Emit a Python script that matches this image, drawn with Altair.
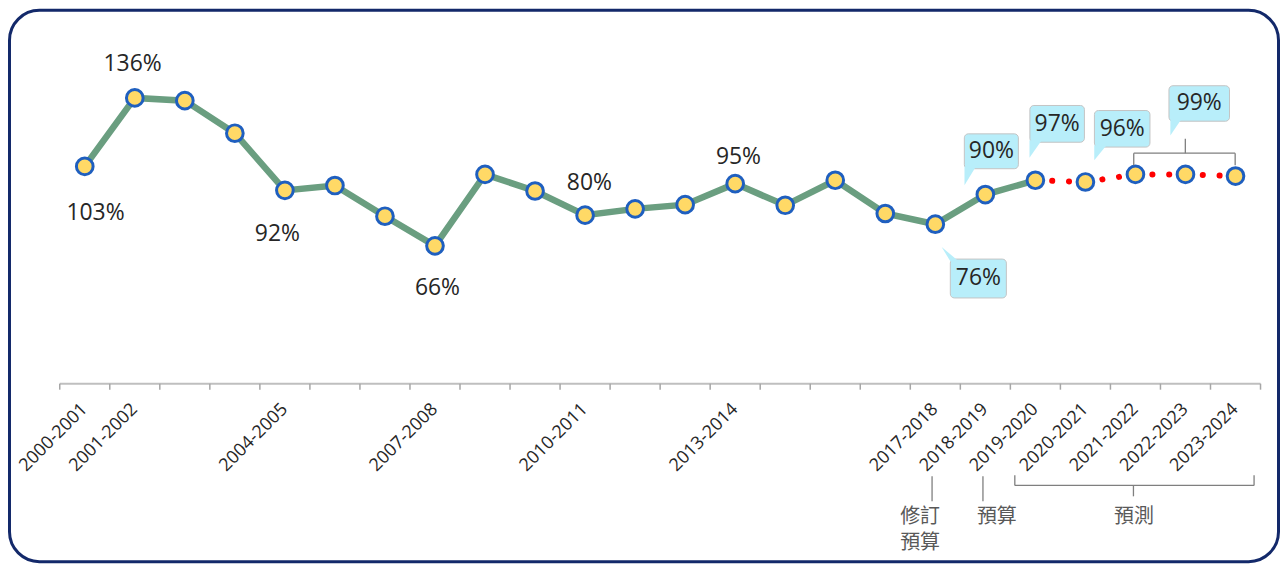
import altair as alt
import pandas as pd

# ---------------- data ----------------
years = ["2000-2001", "2001-2002", "2002-2003", "2003-2004", "2004-2005", "2005-2006",
         "2006-2007", "2007-2008", "2008-2009", "2009-2010", "2010-2011", "2011-2012",
         "2012-2013", "2013-2014", "2014-2015", "2015-2016", "2016-2017", "2017-2018",
         "2018-2019", "2019-2020", "2020-2021", "2021-2022", "2022-2023", "2023-2024"]
ratio = [103.4, 136.0, 134.7, 119.2, 92.0, 94.3, 79.7, 65.6, 99.6, 91.7, 80.2, 83.2,
         85.2, 95.2, 84.9, 96.8, 81.0, 75.9, 90.0, 96.8, 96.0, 99.6, 99.6, 98.8]
shown_labels = [0, 1, 4, 7, 10, 13, 17, 18, 19, 20, 21, 22, 23]
last_actual = 19  # 2019-2020: start of the forecast (dotted) part

# plain value labels: text, x (category index), y (value units)
plain_text = ["136%", "103%", "92%", "66%", "80%", "95%"]
plain_x = [0.956, 0.215, 3.851, 7.049, 10.086, 13.066]
plain_y = [152.1, 81.1, 71.2, 45.5, 95.4, 107.8]

# callouts (light-blue boxes)
call_text = ["76%", "90%", "97%", "96%", "99%"]
call_x1 = [17.30, 17.58, 18.89, 20.18, 21.67]
call_x2 = [18.42, 18.66, 19.98, 21.29, 22.88]
call_y1 = [59.3, 118.9, 132.4, 130.0, 141.8]
call_y2 = [40.8, 102.3, 114.9, 112.6, 124.9]
# callout pointer tails (triangles as small areas): id, x, top, bottom
tail_id = ["76", "76", "76", "90", "90", "97", "97", "96", "96", "99", "99"]
tail_x = [17.127, 17.300, 17.466, 17.583, 17.812, 18.882, 19.127, 20.177, 20.422, 21.698, 21.917]
tail_top = [65.0, 61.6, 58.3, 103.4, 103.4, 115.9, 115.9, 113.5, 113.5, 125.9, 125.9]
tail_bot = [65.0, 58.3, 58.3, 94.4, 103.4, 107.5, 115.9, 106.3, 113.5, 118.1, 125.9]

# grey connector segments (bracket over 99% and the notes under the axis)
seg_x1 = [20.966, 20.966, 22.993, 21.997, 16.935, 17.952, 18.589, 18.589, 23.371, 20.96]
seg_x2 = [22.993, 20.966, 22.993, 21.997, 16.935, 17.952, 23.371, 18.589, 23.371, 20.96]
seg_y1 = [109.7, 109.7, 109.7, 109.7, -44.1, -44.1, -48.4, -48.4, -48.4, -48.4]
seg_y2 = [109.7, 103.9, 103.9, 116.6, -56.0, -56.0, -48.4, -43.6, -43.6, -53.6]

note_text = ["修訂", "預算", "預算", "預測"]
note_x = [16.696, 16.696, 18.23, 20.97]
note_y = [-63.3, -75.9, -63.3, -63.6]

# ---------------- tables ----------------
df = pd.DataFrame({"i": list(range(len(years))), "year": years, "v": ratio})
actual = df[df.i <= last_actual]
forecast = df[df.i >= last_actual]
lab = df[df.i.isin(shown_labels)].assign(ly=-10.9)
axis_df = pd.DataFrame({"x": [-0.5], "x2": [len(years) - 0.5], "y": [0.0]})
ticks = pd.DataFrame({"x": [k - 0.5 for k in range(len(years) + 1)]})
ticks["y"] = 0.0
ticks["y2"] = -2.85
plain = pd.DataFrame({"t": plain_text, "x": plain_x, "y": plain_y})
calls = pd.DataFrame({"t": call_text, "x1": call_x1, "x2": call_x2, "y1": call_y1, "y2": call_y2})
calls["cx"] = (calls.x1 + calls.x2) / 2
calls["cy"] = (calls.y1 + calls.y2) / 2
tails = pd.DataFrame({"id": tail_id, "x": tail_x, "top": tail_top, "bot": tail_bot})
segs = pd.DataFrame({"x1": seg_x1, "x2": seg_x2, "y1": seg_y1, "y2": seg_y2})
notes = pd.DataFrame({"t": note_text, "x": note_x, "y": note_y})

xs = alt.Scale(domain=[-1.5043, 23.8593], nice=False, zero=False)
ys = alt.Scale(domain=[-84.68, 177.66], nice=False, zero=False)


def X(f):
    return alt.X(f"{f}:Q", scale=xs, axis=None)


def Y(f):
    return alt.Y(f"{f}:Q", scale=ys, axis=None, stack=None)


FONT = "Open Sans"
TXT = "#262626"
CALLOUT = "#B8EEFA"

axis_line = alt.Chart(axis_df).mark_rule(color="#BFBFBF", strokeWidth=2).encode(
    x=X("x"), x2="x2:Q", y=Y("y"))
axis_ticks = alt.Chart(ticks).mark_rule(color="#A6A6A6", strokeWidth=1.5).encode(
    x=X("x"), y=Y("y"), y2="y2:Q")
axis_labels = alt.Chart(lab).mark_text(
    angle=315, align="right", baseline="middle", font=FONT, fontSize=18, color=TXT
).encode(x=X("i"), y=Y("ly"), text="year:N")

green = alt.Chart(actual).mark_line(color="#6A9E80", strokeWidth=6.5).encode(
    x=X("i"), y=Y("v"))
red = alt.Chart(forecast).mark_line(
    color="#FF0000", strokeWidth=6, strokeDash=[0.1, 16.75], strokeCap="round"
).encode(x=X("i"), y=Y("v"))
points = alt.Chart(df).mark_circle(
    fill="#FFD966", stroke="#1F5FBF", strokeWidth=3, size=280, opacity=1
).encode(x=X("i"), y=Y("v"), tooltip=["year:N", "v:Q"])

plain_labels = alt.Chart(plain).mark_text(
    font=FONT, fontSize=23, color=TXT, baseline="middle").encode(
    x=X("x"), y=Y("y"), text="t:N")

boxes = alt.Chart(calls).mark_rect(
    fill=CALLOUT, stroke="#C4C4C4", strokeWidth=1, cornerRadius=4).encode(
    x=X("x1"), x2="x2:Q", y=Y("y1"), y2="y2:Q")

tail_layers = []
for tid in dict.fromkeys(tail_id):
    part = tails[tails.id == tid]
    tail_layers.append(
        alt.Chart(part).mark_area(color=CALLOUT, fill=CALLOUT, opacity=1, fillOpacity=1).encode(
            x=X("x"), y=Y("top"), y2="bot:Q")
    )

call_labels = alt.Chart(calls).mark_text(
    font=FONT, fontSize=23, color=TXT, baseline="middle").encode(
    x=X("cx"), y=Y("cy"), text="t:N")

seg_marks = alt.Chart(segs).mark_rule(color="#7F7F7F", strokeWidth=1.3).encode(
    x=X("x1"), x2="x2:Q", y=Y("y1"), y2="y2:Q")
note_marks = alt.Chart(notes).mark_text(
    font="Noto Sans CJK TC", fontSize=20, color="#595959", baseline="middle").encode(
    x=X("x"), y=Y("y"), text="t:N")

chart = alt.layer(
    axis_line, axis_ticks, axis_labels, green, red, points, plain_labels,
    boxes, *tail_layers, call_labels, seg_marks, note_marks
).properties(
    width=1273, height=553, padding=1.5, autosize=alt.AutoSizeParams(type="none"),
    background="white"
).configure_view(
    stroke="#13296A", strokeWidth=3, cornerRadius=30
)

chart.save("out.html", embed_options={"renderer": "svg", "actions": False})
